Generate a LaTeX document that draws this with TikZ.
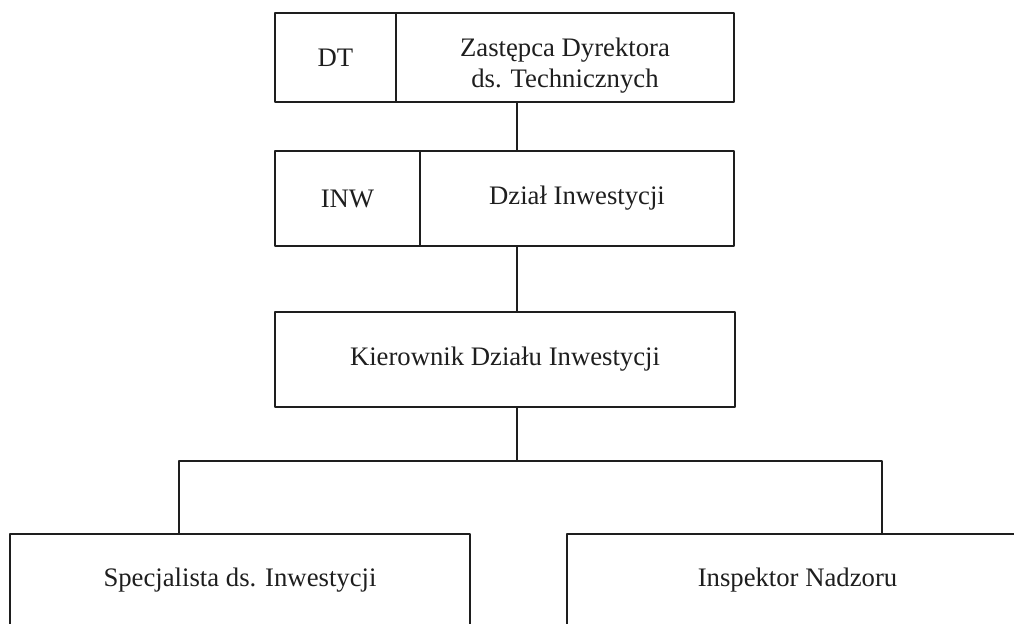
\documentclass[tikz,border=0pt]{standalone}
\usepackage{fontspec}
\setmainfont{Liberation Serif}
\usepackage{xcolor}
\usetikzlibrary{positioning,calc}
\definecolor{ink}{HTML}{1E1E1E}
\tikzset{
  orgbox/.style={rectangle, draw=ink, line width=1pt, inner sep=0pt,
                 minimum height={95*0.02cm}, align=center, text=ink,
                 font=\fontsize{15.2}{17.6}\selectfont},
  orgtext/.style={align=center, text=ink, inner sep=0pt,
                  font=\fontsize{15.2}{17.6}\selectfont},
  link/.style={draw=ink, line width=1pt},
}

\begin{document}
\begin{tikzpicture}[x=0.02cm, y=-0.02cm, line cap=round, line join=round]
\useasboundingbox (0,0) rectangle (1014,624);
\clip (0,0) rectangle (1014,624);

% ---- top level ----
\node[orgbox, minimum width={121*0.02cm}, minimum height={89*0.02cm}] (dt) at (335.5,57.5) {DT};
\node[orgbox, minimum width={338*0.02cm}, minimum height={89*0.02cm}] (zast) at (565,57.5) {};
\node[orgtext] (zastlbl) at ($(zast.center)+(0,8)$) {Zastępca Dyrektora\\ds. Technicznych};

% ---- department ----
\node[orgbox, minimum width={145*0.02cm}] (inw) at (347.5,198.5) {INW};
\node[orgbox, minimum width={314*0.02cm}] (dzial) at (577,198.5) {Dział Inwestycji};

% ---- head of department ----
\node[orgbox, minimum width={460*0.02cm}] (kier) at (505,359.5) {Kierownik Działu Inwestycji};

% ---- staff (cut by the frame) ----
\node[orgbox, minimum width={460*0.02cm}, minimum height={92*0.02cm}] (spec) at (240,580)
  {Specjalista ds. Inwestycji};
\node[orgbox, minimum width={461*0.02cm}, minimum height={92*0.02cm}] (insp) at (797.5,580)
  {Inspektor Nadzoru};

% ---- connectors ----
\coordinate (trunk) at (517,461);
\coordinate (busl)  at (179,461);
\coordinate (busr)  at (882,461);
\draw[link] (zast.south -| trunk) -- (dzial.north -| trunk);
\draw[link] (dzial.south -| trunk) -- (kier.north -| trunk);
\draw[link] (kier.south -| trunk) -- (trunk);
\draw[link] (spec.north -| busl) -- (busl) -- (busr) -- (insp.north -| busr);

\end{tikzpicture}
\end{document}
